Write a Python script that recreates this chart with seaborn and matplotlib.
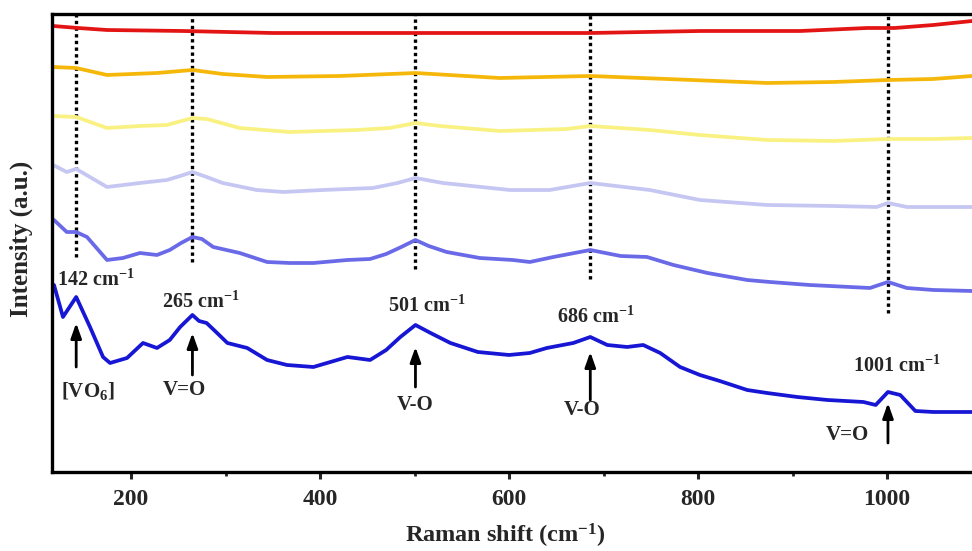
import matplotlib
matplotlib.use("Agg")
import matplotlib.pyplot as plt
from matplotlib.ticker import MultipleLocator
import pandas as pd
import seaborn as sns

# Raman spectra (stacked, arbitrary intensity units), top to bottom
x_s1 = [117.5, 144, 174.6, 255, 350, 509, 686, 802, 908, 979, 1008, 1049, 1090]
y_s1 = [446, 444, 442, 441, 439, 439, 439, 441, 441, 444, 444, 447, 451]

x_s2 = [117.5, 142, 174.6, 227.5, 265, 297, 344, 421, 501, 590, 686, 767, 873, 943, 1001, 1049, 1090]
y_s2 = [405, 404, 397, 399, 402, 398, 395, 396, 399, 394, 396, 393, 389, 390, 392, 393, 396]

x_s3 = [117.5, 142, 174.6, 209.5, 238, 265, 280, 315, 368, 439, 474, 501, 527, 590,
        661, 686, 749, 802, 873, 943, 1001, 1049, 1090]
y_s3 = [356, 355, 344, 346, 347, 354, 353, 344, 340, 342, 344, 349, 346, 341,
        343, 346, 342, 337, 332, 331, 333, 333, 334]

x_s4 = [117.5, 132, 142, 174.6, 209.5, 238, 252, 265, 280, 297, 333, 361, 403, 456,
        482, 501, 530, 601, 643, 686, 749, 802, 873, 943, 989, 1001, 1021, 1049, 1090]
y_s4 = [307, 300, 303, 285, 289, 292, 296, 300, 295, 289, 282, 280, 282, 284,
        289, 294, 289, 282, 282, 289, 282, 272, 267, 266, 265, 269, 265, 265, 265]

x_s5 = [118.5, 132, 142, 153.4, 174.6, 191.5, 209.5, 227.5, 241, 253, 265, 275, 287,
        315, 344, 368, 393, 429, 453, 470, 486, 501, 515, 534, 569, 604, 622, 647,
        686, 718, 746, 774, 810, 852, 876, 918, 982, 1001, 1021, 1049, 1090]
y_s5 = [252, 240, 240, 235, 212, 214, 219, 217, 222, 229, 235, 233, 225,
        219, 210, 209, 209, 212, 213, 218, 225, 232, 226, 220, 214, 212, 210, 215,
        222, 216, 215, 207, 199, 192, 190, 187, 184, 190, 184, 182, 181]

x_s6 = [118.5, 128, 142, 156.6, 170.4, 177.8, 195.8, 212.7, 227.5, 241, 252, 265, 272,
        280, 290, 302, 323, 344, 365, 393, 429, 453, 470, 485, 501, 517, 538, 567,
        600, 622, 640, 668, 686, 704, 725, 742, 760, 781, 802, 823, 852, 873, 905,
        937, 975, 988, 1001, 1014, 1030, 1049, 1090]
y_s6 = [187, 155, 175, 145, 115, 109, 114, 129, 124, 132, 145, 157, 151,
        149, 140, 129, 124, 112, 107, 105, 115, 112, 122, 135, 147, 139, 129, 120,
        117, 119, 124, 129, 135, 127, 125, 127, 119, 105, 97, 91, 82, 79, 75,
        72, 70, 67, 80, 77, 61, 60, 60]

series_x = [x_s1, x_s2, x_s3, x_s4, x_s5, x_s6]
series_y = [y_s1, y_s2, y_s3, y_s4, y_s5, y_s6]
series_names = ["s1", "s2", "s3", "s4", "s5", "s6"]
series_colors = ["#e31414", "#f5b80a", "#f9f283", "#c6c6f3", "#6a6ae8", "#1616d4"]

# Band positions, dotted guide bottoms, arrow geometry and labels
peak_pos = [142, 265, 501, 686, 1001]
peak_labels = ["142 cm$^{-1}$", "265 cm$^{-1}$", "501 cm$^{-1}$", "686 cm$^{-1}$", "1001 cm$^{-1}$"]
peak_label_xy = [(163, 192), (274, 170), (513, 166), (692, 155), (1010, 106)]
guide_bottom = [215, 210, 203, 193, 159]
arrow_tail = [105, 97, 85, 72, 29]
arrow_tip = [149, 139, 125, 120, 69]
band_names = ["[VO$_6$]", "V=O", "V-O", "V-O", "V=O"]
band_name_xy = [(154.5, 81), (257, 82), (500.5, 67), (677, 62), (957.7, 37)]

frames = []
for name, xs, ys in zip(series_names, series_x, series_y):
    frames.append(pd.DataFrame({"shift": xs, "intensity": ys, "sample": name}))
df = pd.concat(frames, ignore_index=True)

sns.set_style("ticks")
plt.rcParams["font.family"] = ["Liberation Serif", "DejaVu Serif"]
plt.rcParams["font.weight"] = "bold"
plt.rcParams["mathtext.fontset"] = "custom"
plt.rcParams["mathtext.rm"] = "Liberation Serif:bold"
plt.rcParams["mathtext.it"] = "Liberation Serif:bold"
plt.rcParams["mathtext.bf"] = "Liberation Serif:bold"

fig = plt.figure(figsize=(9.72, 5.51), dpi=100)
ax = fig.add_axes([0.0535, 0.1434, 0.9563, 0.8312])

sns.lineplot(data=df, x="shift", y="intensity", hue="sample",
             palette=dict(zip(series_names, series_colors)),
             estimator=None, sort=False, linewidth=2.7, legend=False, ax=ax)

ax.set_xlim(116.4, 1100)
ax.set_ylim(0, 458)

# dotted guides from the top frame down to each band
for xp, yb in zip(peak_pos, guide_bottom):
    ax.plot([xp, xp], [yb, 458], color="black", linestyle=(0, (1, 1)),
            linewidth=2.4, zorder=1)

# peak labels, arrows and band assignments
for xp, lab, (lx, ly), t0, t1, bn, (bx, by) in zip(
        peak_pos, peak_labels, peak_label_xy, arrow_tail, arrow_tip, band_names, band_name_xy):
    ax.text(lx, ly, lab, ha="center", va="center", fontsize=14.5, fontweight="bold")
    ax.annotate("", xy=(xp, t1), xytext=(xp, t0),
                arrowprops=dict(arrowstyle="-|>,head_length=0.9,head_width=0.32",
                                color="black", lw=2.0, shrinkA=0, shrinkB=0))
    ax.text(bx, by, bn, ha="center", va="center", fontsize=15, fontweight="bold")

ax.set_yticks([])
ax.xaxis.set_major_locator(MultipleLocator(200))
ax.xaxis.set_minor_locator(MultipleLocator(100))
ax.tick_params(axis="x", which="major", direction="out", length=5, width=2.2,
               labelsize=17, pad=7)
ax.tick_params(axis="x", which="minor", direction="out", length=3, width=2)
for lbl in ax.get_xticklabels():
    lbl.set_fontweight("bold")

for side in ["left", "bottom", "top", "right"]:
    ax.spines[side].set_linewidth(2.4)
    ax.spines[side].set_color("black")

ax.set_xlabel("Raman shift (cm$^{-1}$)", fontsize=17.5, fontweight="bold")
ax.set_ylabel("Intensity (a.u.)", fontsize=18, fontweight="bold")
ax.xaxis.set_label_coords(0.487, -0.108)
ax.yaxis.set_label_coords(-0.02, 0.51)

fig.savefig("out.png", dpi=100)
